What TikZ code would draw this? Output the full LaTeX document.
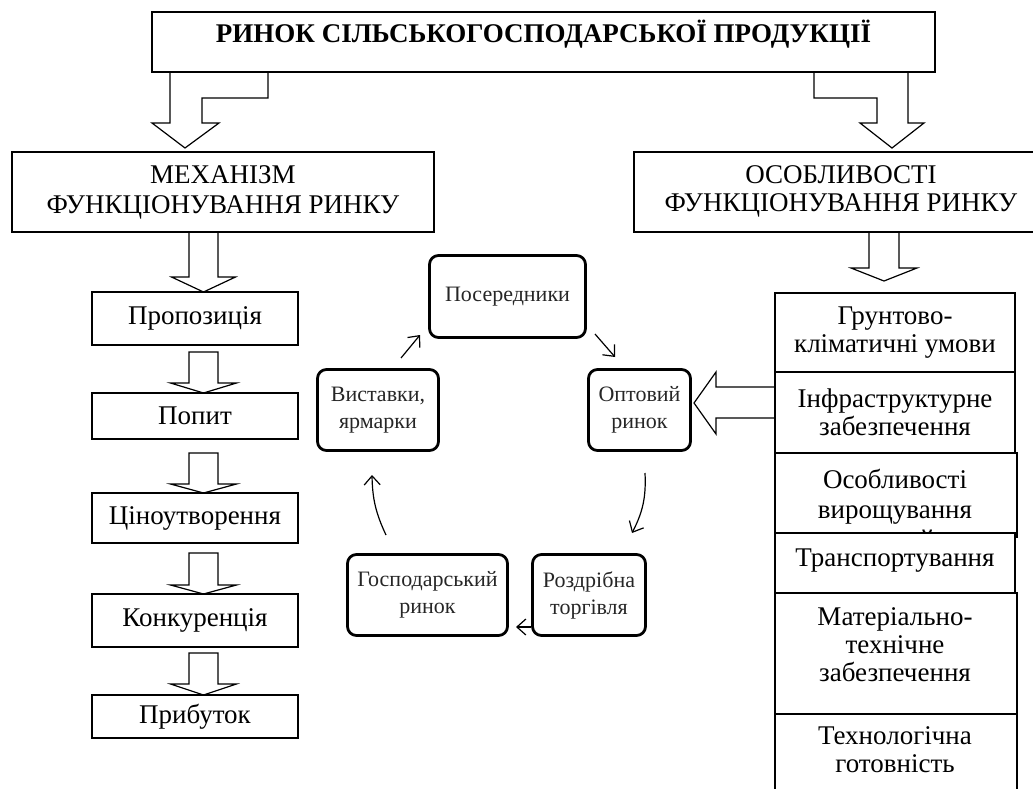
\documentclass[tikz,border=0pt]{standalone}
\usepackage{fontspec}
\setmainfont{Liberation Serif}
\usetikzlibrary{arrows.meta}
\newcommand{\blockdown}[6]{% cx, ytop, yhead, ytip, half shaft, half head
  \draw[blockarrow] ({#1-#5},#2) -- ({#1-#5},#3) -- ({#1-#6},#3) -- (#1,#4) -- ({#1+#6},#3) -- ({#1+#5},#3) -- ({#1+#5},#2)}
\begin{document}
\begin{tikzpicture}[x=1pt,y=-1pt,
  sqbox/.style={draw, line width=1.2pt, inner sep=0pt, align=center, font=\fontsize{27}{30}\selectfont},
  rbox/.style={draw, line width=1.2pt, inner sep=0pt, fill=white, align=center, font=\fontsize{27}{28}\selectfont},
  rtext/.style={align=center, inner sep=0pt, font=\fontsize{27}{28}\selectfont},
  cyc/.style={draw, line width=2.8pt, rounded corners=9pt, inner sep=0pt, align=center, text=black!85, font=\fontsize{22}{27}\selectfont},
  blockarrow/.style={line width=1.2pt, line join=miter},
  cycarrow/.style={line width=1.2pt, -{Straight Barb[length=9pt,width=16pt]}}
]
\useasboundingbox (0,0) rectangle (1033,789);

% top box
\node[sqbox, minimum width=783, minimum height=60, text height=31, text depth=29,
      font=\bfseries\fontsize{27}{30}\selectfont] (top) at (543.5,42) {РИНОК СІЛЬСЬКОГОСПОДАРСЬКОЇ ПРОДУКЦІЇ};

% block arrows from top box
\draw[blockarrow] (170,72) -- (170,123) -- (152,123) -- (185,148) -- (219,123) -- (202,123) -- (202,98) -- (268,98) -- (268,72);
\draw[blockarrow] (814,72) -- (814,98) -- (877,98) -- (877,123) -- (860,123) -- (892,148) -- (924,123) -- (908,123) -- (908,72);

% second level
\node[sqbox, minimum width=422, minimum height=80] (mech) at (223,192) {МЕХАНІЗМ\\ФУНКЦІОНУВАННЯ РИНКУ};
\node[draw, line width=1.2pt, minimum width=416, minimum height=80, inner sep=0pt] (featbox) at (842,192) {};
\node[align=center, inner sep=0pt, font=\fontsize{27}{28}\selectfont] (feat) at (841,191) {ОСОБЛИВОСТІ\\ФУНКЦІОНУВАННЯ РИНКУ};

% left column
\node[sqbox, minimum width=206, minimum height=53] (prop) at (195,318.5) {Пропозиція};
\node[sqbox, minimum width=206, minimum height=46] (popyt) at (195,416) {Попит};
\node[sqbox, minimum width=206, minimum height=50] (price) at (195,518) {Ціноутворення};
\node[sqbox, minimum width=206, minimum height=53] (comp) at (195,620.5) {Конкуренція};
\node[sqbox, minimum width=206, minimum height=43] (profit) at (195,716.5) {Прибуток};

\blockdown{203.5}{232}{277}{292}{14.5}{32};
\blockdown{203.5}{352}{383}{393}{14.5}{33}--cycle;
\blockdown{203.5}{453}{484}{493}{14.5}{33}--cycle;
\blockdown{203.5}{553}{585}{594}{14.5}{33}--cycle;
\blockdown{203.5}{653}{684}{695}{14.5}{33}--cycle;

% right column
\blockdown{884}{232}{268}{281}{15}{33};
\node[rbox, minimum width=240, minimum height=79] (soil) at (895,332.5) {Грунтово-\\кліматичні умови};
\node[rbox, minimum width=240, minimum height=81] (infra) at (895,412.5) {Інфраструктурне\\забезпечення};
\node[rbox, minimum width=242, minimum height=84] (growbox) at (896,495) {};
\begin{scope}
\clip (775,453) rectangle (1017,533);
\node[align=center, inner sep=0pt, font=\fontsize{27}{30}\selectfont] (grow) at (895,509) {Особливості\\вирощування\\овочей};
\end{scope}
\node[rbox, minimum width=240, minimum height=60, text height=33, text depth=27] (trans) at (895,563) {Транспортування};
\node[rbox, minimum width=242, minimum height=121] (matbox) at (896,653.5) {};
\node[rtext] (mat) at (895,645) {Матеріально-\\технічне\\забезпечення};
\node[rbox, minimum width=242, minimum height=92] (techbox) at (896,760) {};
\node[rtext] (tech) at (895,750) {Технологічна\\готовність};

% block arrow to wholesale market
\draw[blockarrow] (775,387) -- (716,387) -- (716,372) -- (694,403) -- (716,434) -- (716,418) -- (775,418);

% cycle
\node[cyc, minimum width=156, minimum height=82] (pos) at (507.5,296.5) {Посередники};
\node[cyc, minimum width=121, minimum height=81] (vyst) at (378,410) {Виставки,\\ярмарки};
\node[cyc, minimum width=102, minimum height=81] (opt) at (639.5,410) {Оптовий\\ринок};
\node[cyc, minimum width=160, minimum height=81] (gosp) at (427.5,595) {Господарський\\ринок};
\node[cyc, minimum width=113, minimum height=81] (rozd) at (589,595) {Роздрібна\\торгівля};

\coordinate (c1a) at (401,358); \coordinate (c1b) at (420,335);
\coordinate (c2a) at (595,334); \coordinate (c2b) at (615,357);
\coordinate (c3a) at (645,473); \coordinate (c3b) at (632,533);
\coordinate (c4a) at (531,627); \coordinate (c4b) at (516,627);
\coordinate (c5a) at (386,535); \coordinate (c5b) at (372,475);
\draw[cycarrow] (c1a) -- (c1b);
\draw[cycarrow] (c2a) -- (c2b);
\draw[cycarrow] (c3a) to[bend left=15] (c3b);
\draw[cycarrow] (c4a) -- (c4b);
\draw[cycarrow] (c5a) to[bend left=12] (c5b);
\end{tikzpicture}
\end{document}
